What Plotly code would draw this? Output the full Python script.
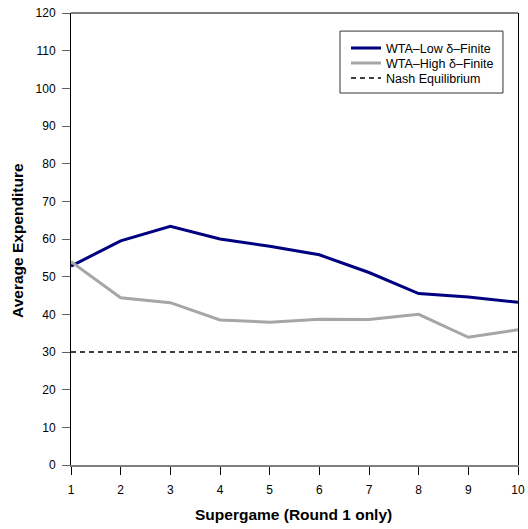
import plotly.graph_objects as go

supergames = [1, 2, 3, 4, 5, 6, 7, 8, 9, 10]
low_delta = [52.8, 59.5, 63.4, 60.0, 58.1, 55.8, 51.1, 45.5, 44.6, 43.2]
high_delta = [54.0, 44.4, 43.1, 38.5, 37.9, 38.7, 38.6, 40.0, 33.9, 35.9]
nash = [30] * 10
names = ["WTA\u2013Low \u03b4\u2013Finite", "WTA\u2013High \u03b4\u2013Finite", "Nash Equilibrium"]

fig = go.Figure()
fig.add_trace(go.Scatter(x=supergames, y=low_delta, mode="lines", name=names[0],
                         line=dict(color="#000080", width=3), legend="legend"))
fig.add_trace(go.Scatter(x=supergames, y=high_delta, mode="lines", name=names[1],
                         line=dict(color="#A6A6A6", width=3), legend="legend2"))
fig.add_trace(go.Scatter(x=supergames, y=nash, mode="lines", name=names[2],
                         line=dict(color="black", width=1.5, dash="5px,4px"), legend="legend3"))

leg_common = dict(x=0.6152, xanchor="left", yanchor="top", borderwidth=0,
                  bgcolor="rgba(0,0,0,0)", font=dict(size=12.5), itemwidth=30)

fig.update_layout(
    width=528, height=529,
    margin=dict(l=71, r=10, t=13, b=64),
    paper_bgcolor="white", plot_bgcolor="white",
    font=dict(family="Liberation Sans, Arial, sans-serif", size=12, color="black"),
    showlegend=True,
    legend=dict(y=0.9550, **leg_common),
    legend2=dict(y=0.9218, **leg_common),
    legend3=dict(y=0.8886, **leg_common),
    xaxis=dict(range=[1, 10], tickvals=supergames, showgrid=False, zeroline=False,
               automargin=False,
               showline=True, linecolor="#808080", linewidth=2,
               ticks="outside", ticklen=8, tickcolor="black", tickwidth=1,
               ticklabelstandoff=5, tickfont=dict(size=12)),
    yaxis=dict(range=[0, 120], tickvals=list(range(0, 121, 10)), showgrid=False, zeroline=False,
               automargin=False,
               showline=True, linecolor="black", linewidth=1, mirror=True,
               ticks="outside", ticklen=8, tickcolor="#606060", tickwidth=1,
               ticklabelstandoff=4, tickfont=dict(size=12)),
    shapes=[
        dict(type="line", xref="paper", yref="paper", x0=0, x1=1, y0=1, y1=1,
             line=dict(color="black", width=1)),
        dict(type="rect", xref="paper", yref="paper", x0=0.6018, x1=0.9664, y0=0.823, y1=0.960,
             line=dict(color="#333333", width=1), fillcolor="rgba(0,0,0,0)"),
    ],
    annotations=[
        dict(text="<b>Supergame (Round 1 only)</b>", xref="paper", yref="paper",
             x=0.497, y=-0.1106, xanchor="center", yanchor="middle", showarrow=False,
             font=dict(size=15.5)),
        dict(text="<b>Average Expenditure</b>", xref="paper", yref="paper",
             x=-0.1186, y=0.498, xanchor="center", yanchor="middle", showarrow=False,
             textangle=-90, font=dict(size=15.5)),
    ],
)

fig.write_html("out.html")
